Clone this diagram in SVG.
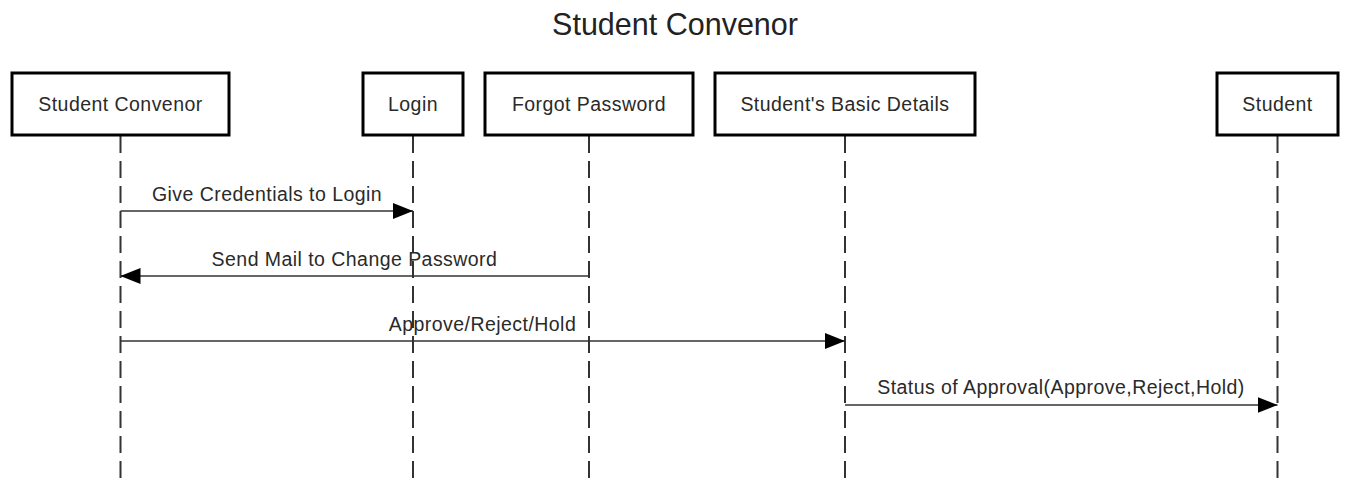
<svg xmlns="http://www.w3.org/2000/svg" width="1349" height="484" viewBox="0 0 1349 484">
  <style>
    .box { fill: #ffffff; stroke: #000000; stroke-width: 3; }
    .lbl { font-family: "Liberation Sans", Arial, sans-serif; font-size: 19.5px; letter-spacing: 0.45px; fill: #2a2a2a; text-anchor: middle; }
    .title { font-family: "Liberation Sans", Arial, sans-serif; font-size: 30.5px; fill: #222222; text-anchor: middle; }
    .life { stroke: #333333; stroke-width: 2; stroke-dasharray: 17 8; fill: none; }
    .msg { stroke: #333333; stroke-width: 1.6; fill: none; marker-end: url(#arr); }
  </style>
  <defs>
    <marker id="arr" markerUnits="userSpaceOnUse" markerWidth="20" markerHeight="16" refX="20" refY="8" orient="auto">
      <path d="M0,0 L20,8 L0,16 Z" fill="#000000"/>
    </marker>
  </defs>
  <rect width="1349" height="484" fill="#ffffff"/>
  <text class="title" x="675" y="35">Student Convenor</text>

  <g id="lifelines">
    <line class="life" x1="120.5" y1="136" x2="120.5" y2="484"/>
    <line class="life" x1="413" y1="136" x2="413" y2="484"/>
    <line class="life" x1="589" y1="136" x2="589" y2="484"/>
    <line class="life" x1="845" y1="136" x2="845" y2="484"/>
    <line class="life" x1="1277.5" y1="136" x2="1277.5" y2="484"/>
  </g>

  <g id="node-student-convenor">
    <rect class="box" x="12" y="73" width="217" height="62"/>
    <text class="lbl" x="120.5" y="111">Student Convenor</text>
  </g>
  <g id="node-login">
    <rect class="box" x="363" y="73" width="100" height="62"/>
    <text class="lbl" x="413" y="111">Login</text>
  </g>
  <g id="node-forgot-password">
    <rect class="box" x="485" y="73" width="208" height="62"/>
    <text class="lbl" x="589" y="111">Forgot Password</text>
  </g>
  <g id="node-basic-details">
    <rect class="box" x="715" y="73" width="260" height="62"/>
    <text class="lbl" x="845" y="111">Student's Basic Details</text>
  </g>
  <g id="node-student">
    <rect class="box" x="1217" y="73" width="121" height="62"/>
    <text class="lbl" x="1277.5" y="111">Student</text>
  </g>

  <g id="connectors">
    <line class="msg" x1="120.5" y1="211" x2="413" y2="211"/>
    <text class="lbl" x="267" y="201">Give Credentials to Login</text>
    <line class="msg" x1="589" y1="276" x2="120.5" y2="276"/>
    <text class="lbl" x="354.5" y="266">Send Mail to Change Password</text>
    <line class="msg" x1="120.5" y1="341" x2="845" y2="341"/>
    <text class="lbl" x="482.5" y="331">Approve/Reject/Hold</text>
    <line class="msg" x1="845" y1="405" x2="1277.5" y2="405"/>
    <text class="lbl" x="1061" y="394">Status of Approval(Approve,Reject,Hold)</text>
  </g>
</svg>
